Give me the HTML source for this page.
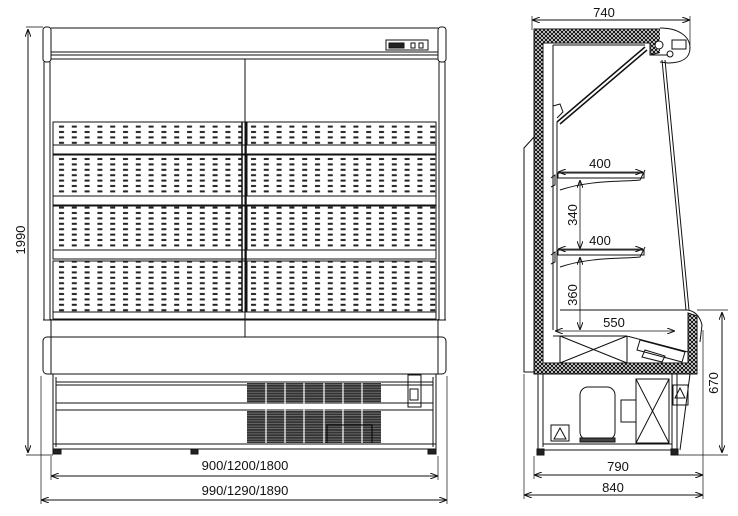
<!DOCTYPE html>
<html><head><meta charset="utf-8"><style>
html,body{margin:0;padding:0;background:#fff;}
svg{display:block;}
text{font-family:"Liberation Sans","DejaVu Sans",sans-serif;font-size:13px;fill:#111;}
</style></head><body>
<svg width="738" height="516" viewBox="0 0 738 516" xmlns="http://www.w3.org/2000/svg">
<defs>
<pattern id="holes" x="57" y="0" width="12.8" height="5.4" patternUnits="userSpaceOnUse">
<rect x="2" y="1.4" width="5" height="2" fill="#222"/>
</pattern>
<pattern id="hatch" width="4" height="4" patternUnits="userSpaceOnUse">
<rect width="4" height="4" fill="#fff"/>
<path d="M0 2 L2 0 L4 2 L2 4 Z" fill="none" stroke="#111" stroke-width="1.1"/>
</pattern>
<pattern id="grille" width="4" height="2.6" patternUnits="userSpaceOnUse">
<rect width="4" height="2.6" fill="#333"/>
<rect y="2" width="4" height="0.6" fill="#888"/>
</pattern>
<marker id="ar" markerWidth="8" markerHeight="6" refX="8" refY="3" orient="auto-start-reverse" markerUnits="userSpaceOnUse">
<path d="M0 0 L8 3 L0 6" fill="none" stroke="#111" stroke-width="1"/>
</marker>
</defs>
<g fill="none" stroke="#111" stroke-width="1">
<rect x="43" y="27" width="8" height="35" rx="3"/>
<rect x="438" y="27" width="8" height="35" rx="3"/>
<path d="M44 62 V320 M50 62 V320 M439 62 V320 M445 62 V320"/>
<path d="M51 28 H438 M51 52 H438 M51 55 H438 M51 59 H438"/>
<rect x="386" y="40" width="42" height="10"/>
<rect x="389" y="43" width="15" height="5" fill="#222"/>
<rect x="411" y="43" width="4" height="5"/><rect x="419" y="43" width="4" height="5"/>
<path d="M245 59 V337"/>
<g>
<rect x="53" y="122" width="189" height="23" fill="url(#holes)"/>
<rect x="247" y="122" width="189" height="23" fill="url(#holes)"/>
<rect x="53" y="122" width="383" height="23"/>
<rect x="53" y="145" width="383" height="9"/>
<rect x="53" y="155" width="189" height="41" fill="url(#holes)"/>
<rect x="247" y="155" width="189" height="41" fill="url(#holes)"/>
<rect x="53" y="155" width="383" height="41"/>
<rect x="53" y="196" width="383" height="9"/>
<rect x="53" y="206" width="189" height="44" fill="url(#holes)"/>
<rect x="247" y="206" width="189" height="44" fill="url(#holes)"/>
<rect x="53" y="206" width="383" height="44"/>
<rect x="53" y="250" width="383" height="9"/>
<rect x="53" y="261" width="189" height="51" fill="url(#holes)"/>
<rect x="247" y="261" width="189" height="51" fill="url(#holes)"/>
<rect x="53" y="261" width="383" height="51"/>
<rect x="53" y="312" width="383" height="7"/>
<path d="M242 122 V312 M246 122 V312" stroke-width="1.5"/>
</g>
<path d="M43 320 H446 M51 319 V337 M438 319 V337"/>
<rect x="43" y="337" width="403" height="37" rx="4"/>
<path d="M51 337 V374 M438 337 V374"/>
<rect x="53" y="374" width="383" height="75"/>
<path d="M56 377 V447 M433 377 V447"/>
<rect x="56" y="382" width="377" height="3"/>
<rect x="56" y="403" width="377" height="7"/>
<rect x="247" y="383" width="134" height="20" fill="url(#grille)" stroke="none"/>
<rect x="247" y="411" width="134" height="32" fill="url(#grille)" stroke="none"/>
<path d="M266 383 V443 M285 383 V443 M304 383 V443 M324 383 V443 M343 383 V443 M362 383 V443" stroke="#fff" stroke-width="1.2"/>
<path d="M327 443 V425 H372 V443" stroke="#000"/>
<rect x="408" y="375" width="13" height="32"/>
<rect x="410" y="389" width="8" height="11"/>
<path d="M53 444 H436"/>
<rect x="53" y="449" width="8" height="5" fill="#222"/>
<rect x="191" y="449" width="7" height="5" fill="#222"/>
<rect x="428" y="449" width="8" height="5" fill="#222"/>
<path d="M28 29 V453" marker-start="url(#ar)" marker-end="url(#ar)"/>
<path d="M26 27 H43 M26 455 H53" stroke-width="0.7"/>
<path d="M51 476 H438" marker-start="url(#ar)" marker-end="url(#ar)"/>
<path d="M51 456 V480 M438 456 V480" stroke-width="0.7"/>
<path d="M41 500 H447" marker-start="url(#ar)" marker-end="url(#ar)"/>
<path d="M41 376 V504 M447 376 V504" stroke-width="0.7"/>

<path d="M532 20 H690" marker-start="url(#ar)" marker-end="url(#ar)"/>
<path d="M532 16 V30 M690 16 V45" stroke-width="0.7"/>
<path d="M534 29 H662 V52 L650 55 V43 H543 V363 H688 V313 L697 316 V374 H534 Z" fill="url(#hatch)" stroke="#111"/>
<path d="M660 28 C678 28 690 36 690 48 C690 58 682 63 668 63 L660 62" fill="#fff"/>
<circle cx="659" cy="45" r="4" fill="#fff"/><circle cx="670" cy="54" r="3"/>
<rect x="672" y="40" width="14" height="9"/>
<path d="M650 55 H668"/>
<path d="M662 60 L686 310 M665 60 L689 310"/>
<path d="M686 310 C694 310 700 316 702 325 L700 342" />
<path d="M553 45 H645 M553 45 V330 M557 122 V330"/>
<path d="M557 122 L645 47 M560 124 L647 50" stroke-width="1.5"/>
<path d="M553 106 L560 104 L563 112 L557 118" />
<rect x="558" y="173" width="86" height="5"/>
<path d="M560 190 C590 180 620 182 640 180 L645 170"/>
<rect x="558" y="250" width="86" height="5"/>
<path d="M560 267 C590 257 620 259 640 257 L645 247"/>
<path d="M551 178 l4 -3 v10 l-4 2 M551 255 l4 -3 v10 l-4 2"/>
<path d="M558 172 H643" stroke-width="0.8" marker-start="url(#ar)" marker-end="url(#ar)"/>
<path d="M558 249 H643" stroke-width="0.8" marker-start="url(#ar)" marker-end="url(#ar)"/>
<path d="M580 180 V249" stroke-width="0.8" marker-start="url(#ar)" marker-end="url(#ar)"/>
<path d="M580 257 V330" stroke-width="0.8" marker-start="url(#ar)" marker-end="url(#ar)"/>
<path d="M560 310 H687"/>
<path d="M555 331 H675" stroke-width="0.8" marker-start="url(#ar)" marker-end="url(#ar)"/>
<path d="M553 336 H627 V363 M560 336 V363 M560 336 L627 363 M627 336 L560 363 M627 336 L688 352"/>
<path d="M640 340 L685 352 L682 362 L637 350 Z M645 350 L665 356 L662 362 L642 357 Z"/>
<path d="M534 137 L524 148 V372 H534"/>
<path d="M538 374 V450 M543 374 V447 M543 444 H672 M538 450 H677 M672 374 V450 M677 374 V450"/>
<path d="M690 374 L680 450"/>
<rect x="580" y="387" width="35" height="53" rx="8"/>
<rect x="580" y="438" width="35" height="4" fill="#444"/>
<rect x="621" y="400" width="15" height="22"/>
<rect x="636" y="379" width="33" height="64"/>
<path d="M636 379 L669 443 M669 379 L636 443"/>
<rect x="551" y="425" width="18" height="16"/>
<path d="M560 428 L566 439 H554 Z"/>
<rect x="673" y="385" width="15" height="20"/>
<path d="M680 388 L685 398 H675 Z"/>
<rect x="537" y="449" width="7" height="6" fill="#222"/>
<rect x="671" y="449" width="7" height="6" fill="#222"/>
<path d="M722 312 V453" marker-start="url(#ar)" marker-end="url(#ar)"/>
<path d="M697 310 H728 M678 455 H728" stroke-width="0.7"/>
<path d="M534 475 H703" marker-start="url(#ar)" marker-end="url(#ar)"/>
<path d="M524 495 H703" marker-start="url(#ar)" marker-end="url(#ar)"/>
<path d="M534 456 V479 M524 374 V499 M703 330 V499" stroke-width="0.7"/>
</g>
<text x="245" y="470" text-anchor="middle">900/1200/1800</text>
<text x="245" y="495" text-anchor="middle">990/1290/1890</text>
<text transform="translate(25 240) rotate(-90)" text-anchor="middle">1990</text>
<text x="604" y="17" text-anchor="middle">740</text>
<text x="600" y="168" text-anchor="middle">400</text>
<text x="600" y="245" text-anchor="middle">400</text>
<text transform="translate(577 215) rotate(-90)" text-anchor="middle">340</text>
<text transform="translate(577 295) rotate(-90)" text-anchor="middle">360</text>
<text x="614" y="327" text-anchor="middle">550</text>
<text x="618" y="471" text-anchor="middle">790</text>
<text x="613" y="492" text-anchor="middle">840</text>
<text transform="translate(718 383) rotate(-90)" text-anchor="middle">670</text>
</svg>
</body></html>
